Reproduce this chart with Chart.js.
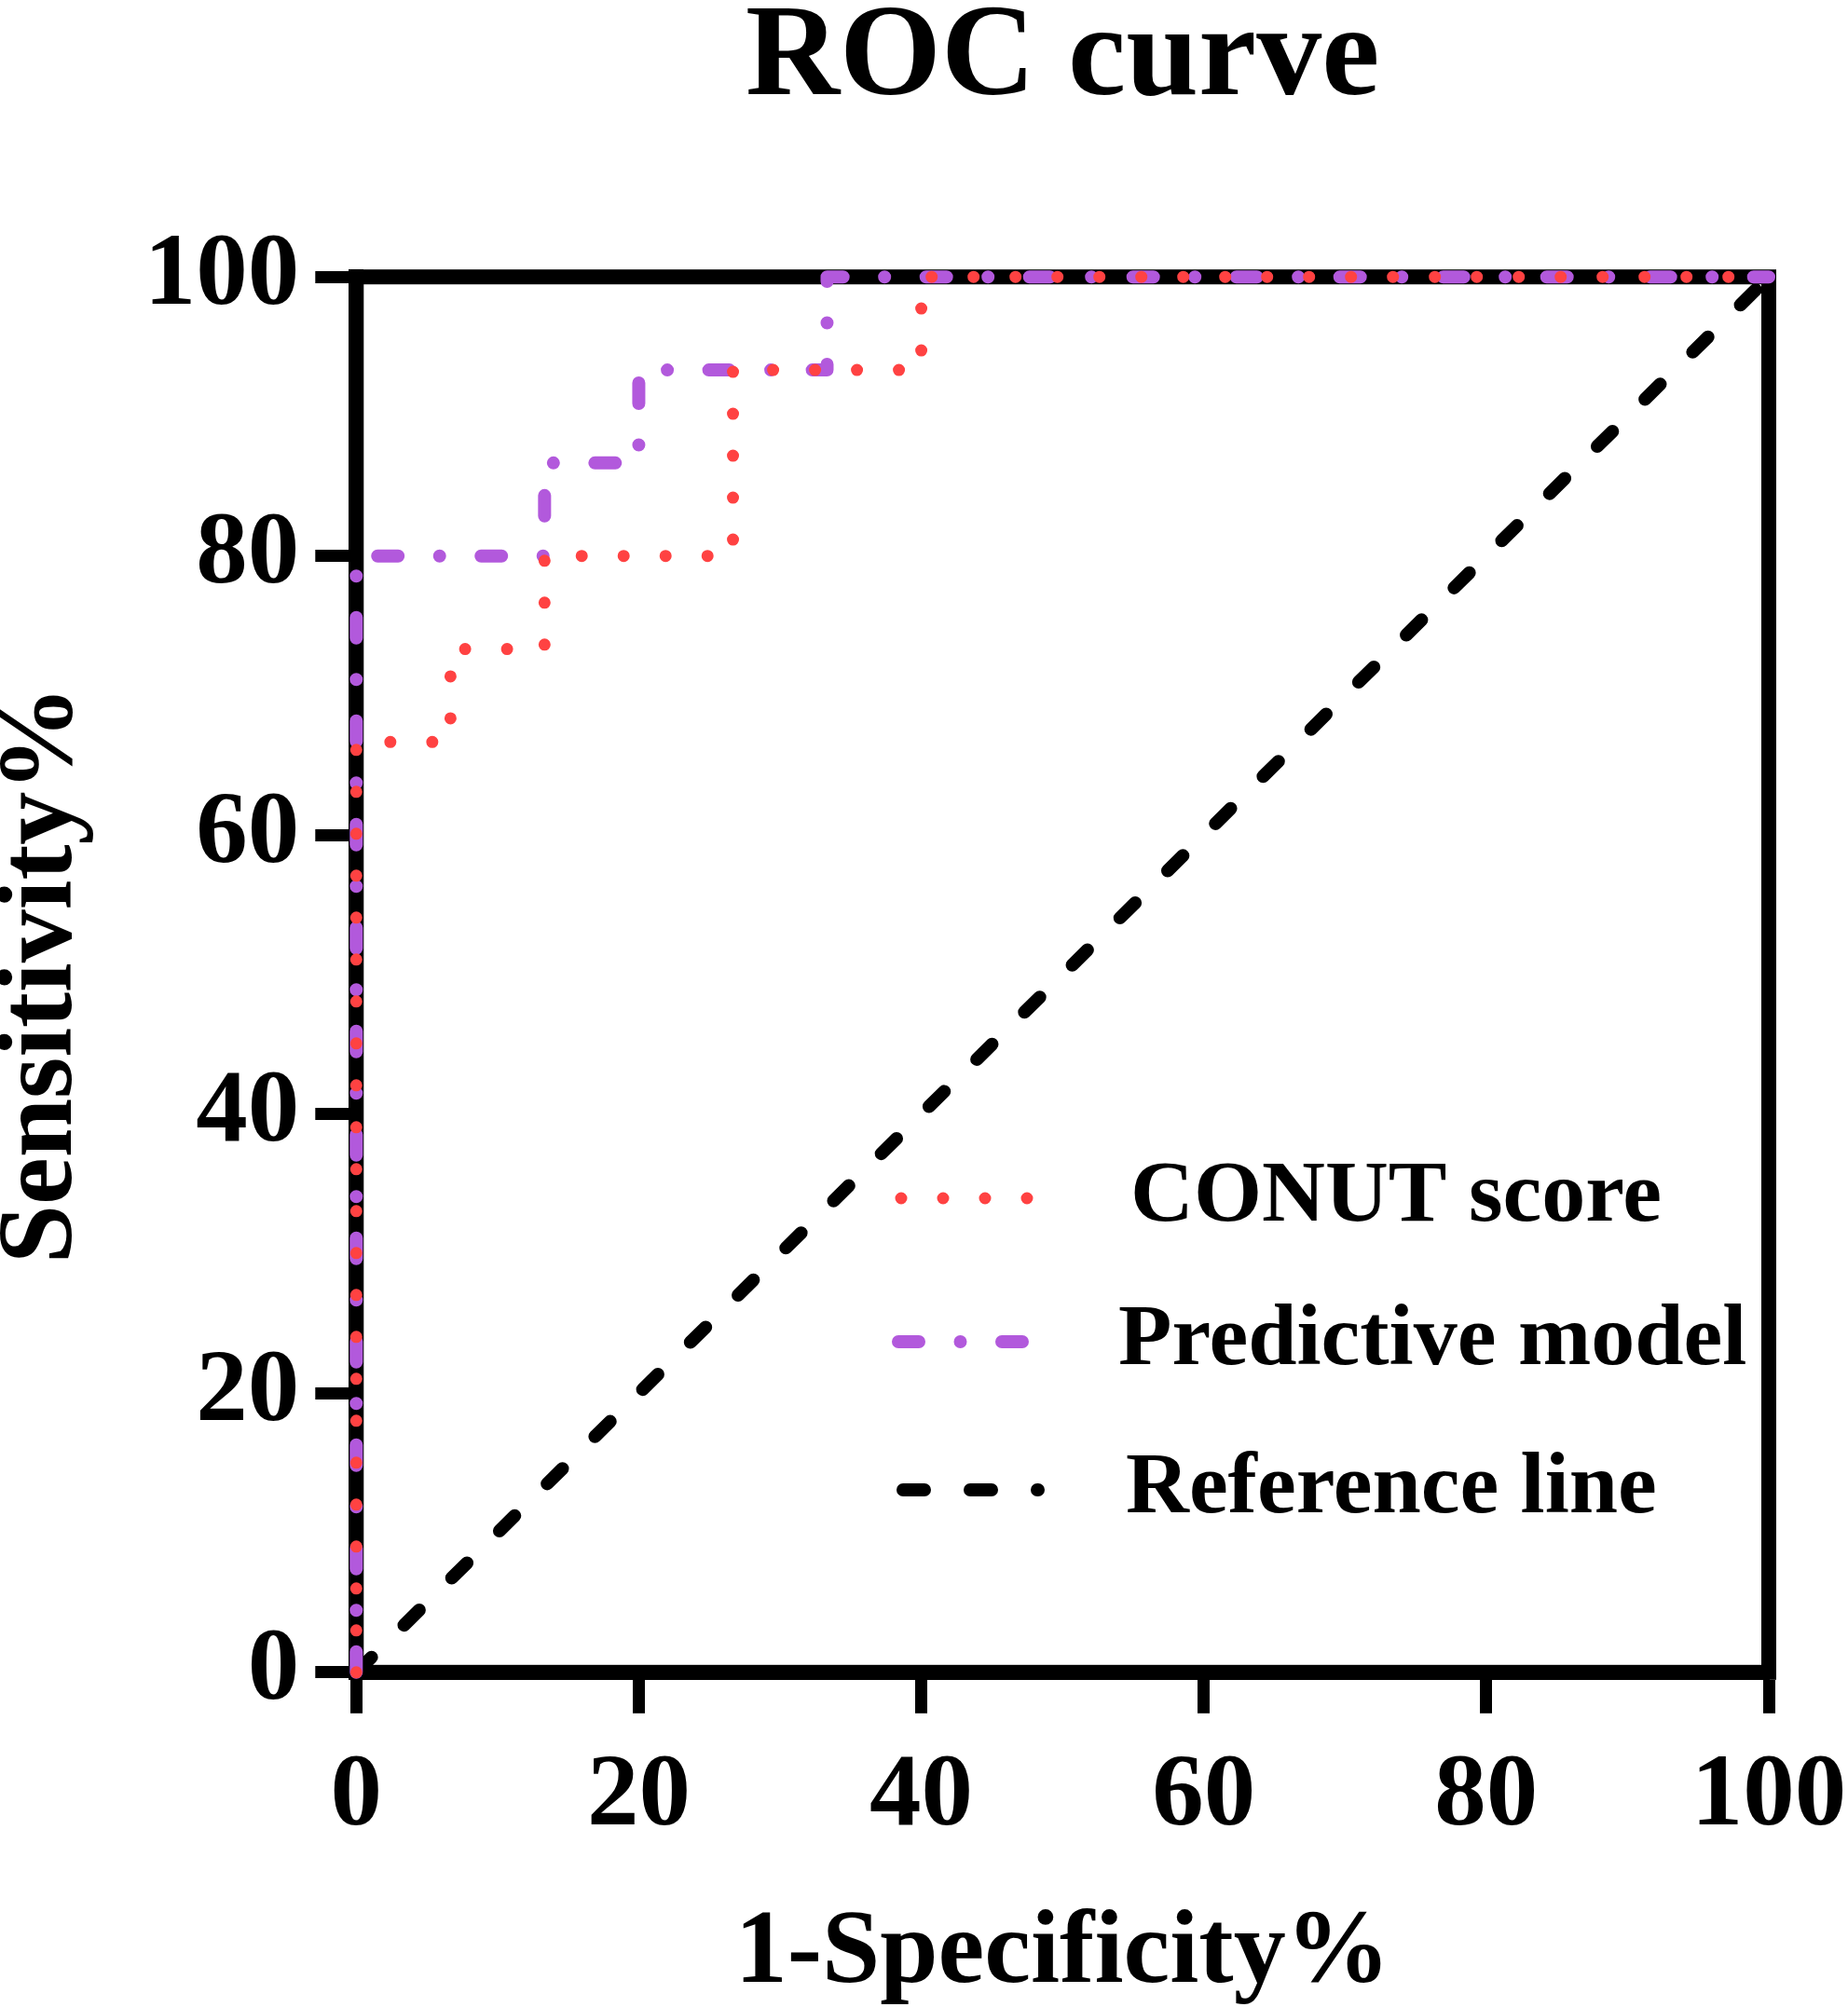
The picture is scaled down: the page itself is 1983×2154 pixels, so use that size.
<!DOCTYPE html>
<html>
<head>
<meta charset="utf-8">
<title>ROC curve</title>
<script src="https://cdn.jsdelivr.net/npm/chart.js@4.4.0/dist/chart.umd.min.js"></script>
<style>
  html, body { margin: 0; padding: 0; background: #fff; }
  canvas { display: block; }
</style>
</head>
<body>
<canvas id="rocChart" width="1983" height="2154"></canvas>
<script>
// ROC data (1-specificity %, sensitivity %)
const seriesNames = ['CONUT score', 'Predictive model', 'Reference line'];
const conutFpr = [0, 0, 6.67, 13.33, 26.67, 40, 100];
const conutTpr = [0, 66.67, 73.33, 80, 93.33, 100, 100];
const modelFpr = [0, 0, 13.33, 20, 33.33, 100];
const modelTpr = [0, 80, 86.67, 93.33, 100, 100];
const refFpr = [0, 100];
const refTpr = [0, 100];
const tickValues = [0, 20, 40, 60, 80, 100];

const FONT = "'Times New Roman', 'Liberation Serif', serif";

function toPoints(xs, ys) {
  return xs.map((x, i) => ({ x: x, y: ys[i] }));
}

// top + right frame lines, drawn under the curves
const framePlugin = {
  id: 'frame',
  beforeDatasetsDraw(chart) {
    const { ctx, chartArea } = chart;
    ctx.save();
    ctx.strokeStyle = '#000';
    ctx.lineWidth = 16;
    ctx.strokeRect(chartArea.left, chartArea.top,
      chartArea.right - chartArea.left, chartArea.bottom - chartArea.top);
    ctx.restore();
  }
};

// legend inside the plot, lower right
const insideLegend = {
  id: 'insideLegend',
  afterDatasetsDraw(chart) {
    const { ctx } = chart;
    const rows = [1286, 1440, 1599];
    const textX = [1213, 1200, 1208];
    const lineStart = [967, 964, 969];
    const lineEnd = [1108, 1108, 1114];
    ctx.save();
    chart.data.datasets.forEach((ds, i) => {
      const y = rows[i];
      ctx.beginPath();
      ctx.strokeStyle = ds.borderColor;
      ctx.lineWidth = ds.borderWidth;
      ctx.lineCap = 'round';
      ctx.setLineDash(ds.borderDash);
      ctx.moveTo(lineStart[i], y);
      ctx.lineTo(lineEnd[i], y);
      ctx.stroke();
      ctx.setLineDash([]);
      ctx.fillStyle = '#000';
      ctx.font = 'bold 94px ' + FONT;
      ctx.textAlign = 'left';
      ctx.textBaseline = 'middle';
      ctx.fillText(ds.label, textX[i], y);
    });
    ctx.restore();
  }
};

function axisOptions(titleText, titleFont, titlePadding, tickPadding) {
  return {
    type: 'linear',
    min: 0,
    max: 100,
    afterBuildTicks: (axis) => { axis.ticks = tickValues.map(v => ({ value: v })); },
    border: { display: true, color: '#000', width: 16 },
    grid: {
      display: true,
      drawOnChartArea: false,
      drawTicks: true,
      tickLength: 44,
      tickWidth: 13,
      tickColor: '#000',
      color: '#000'
    },
    ticks: {
      color: '#000',
      padding: tickPadding,
      maxRotation: 0,
      autoSkip: false,
      font: { family: FONT, size: 111, weight: 'bold', lineHeight: 1.2 }
    },
    title: {
      display: true,
      text: titleText,
      color: '#000',
      font: titleFont,
      padding: titlePadding
    }
  };
}

const xAxis = axisOptions('1-Specificity%',
  { family: FONT, size: 112, weight: 'bold', lineHeight: 1.0 },
  { top: 22, bottom: 0 }, 24);
// let the "100" label overhang the right edge like the original
xAxis.afterFit = (scale) => { scale.paddingRight = 84; };

const yAxis = axisOptions('Sensitivity%',
  { family: FONT, size: 114, weight: 'bold', lineHeight: 0.7 },
  { top: 7, bottom: 51 }, 17);

const ctx = document.getElementById('rocChart').getContext('2d');

new Chart(ctx, {
  type: 'line',
  data: {
    datasets: [
      {
        label: seriesNames[0],
        data: toPoints(conutFpr, conutTpr),
        borderColor: '#FF4242',
        borderWidth: 13,
        borderDash: [0, 45],
        borderCapStyle: 'round',
        borderJoinStyle: 'round',
        stepped: 'before',
        pointRadius: 0,
        fill: false,
        clip: false
      },
      {
        label: seriesNames[1],
        data: toPoints(modelFpr, modelTpr),
        borderColor: '#B259DC',
        borderWidth: 14,
        borderDash: [22, 44.5, 0, 44.5],
        borderCapStyle: 'round',
        borderJoinStyle: 'round',
        stepped: 'before',
        pointRadius: 0,
        fill: false,
        clip: false
      },
      {
        label: seriesNames[2],
        data: toPoints(refFpr, refTpr),
        borderColor: '#000000',
        borderWidth: 14,
        borderDash: [23, 49],
        borderCapStyle: 'round',
        pointRadius: 0,
        fill: false,
        clip: false
      }
    ]
  },
  options: {
    responsive: false,
    animation: false,
    devicePixelRatio: 1,
    layout: { padding: { top: 0, left: 0, bottom: 0, right: 85 } },
    plugins: {
      legend: { display: false },
      tooltip: { enabled: false },
      title: {
        display: true,
        text: 'ROC curve',
        color: '#000',
        fullSize: false,
        font: { family: FONT, size: 140, weight: 'bold', lineHeight: 0.73 },
        padding: { top: 14, bottom: 181 }
      }
    },
    scales: {
      x: xAxis,
      y: yAxis
    }
  },
  plugins: [framePlugin, insideLegend]
});
</script>
</body>
</html>
